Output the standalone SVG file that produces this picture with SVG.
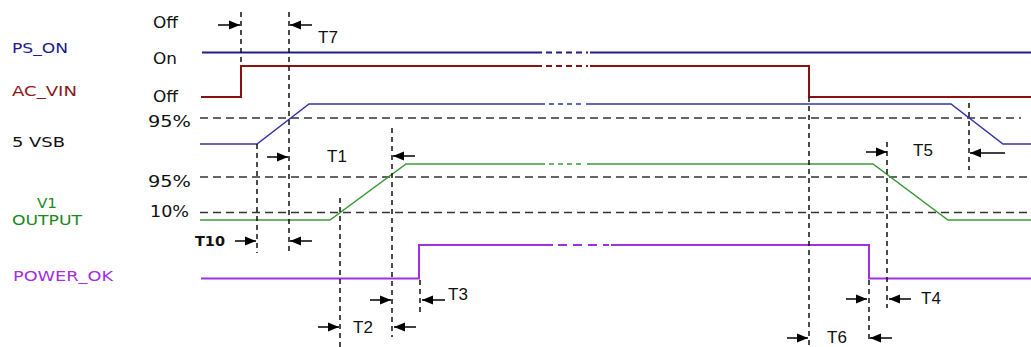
<svg xmlns="http://www.w3.org/2000/svg" width="1031" height="347" viewBox="0 0 1031 347">
<style>
  text { font-family: "DejaVu Sans", "Liberation Sans", sans-serif; }
  .lbl { font-size: 14px; }
  .lvl { font-size: 15px; fill: #111; }
  .tl { font-family: "Liberation Sans", Arial, sans-serif; font-size: 17px; fill: #111; }
  .sig { fill: none; stroke-linejoin: miter; }
  .ref { fill: none; stroke: #333; stroke-width: 1.5; stroke-dasharray: 8 5; }
  .vd { fill: none; stroke: #111; stroke-width: 1.5; stroke-dasharray: 5 4; }
  .arr { fill: none; stroke: #000; stroke-width: 1.5; marker-end: url(#ah); }
</style>
<defs>
  <marker id="ah" markerUnits="userSpaceOnUse" markerWidth="11" markerHeight="10" viewBox="0 0 11 10" refX="11" refY="5" orient="auto">
    <path d="M0,0.5 L11,5 L0,9.5 z" fill="#000"/>
  </marker>
</defs>
<rect width="1031" height="347" fill="#fff"/>

<g id="labels">
  <text class="lbl" x="12" y="53" textLength="56" lengthAdjust="spacingAndGlyphs" fill="#1c1c8c">PS_ON</text>
  <text class="lbl" x="12" y="96" textLength="65" lengthAdjust="spacingAndGlyphs" fill="#8b1a1a">AC_VIN</text>
  <text class="lbl" x="12" y="147" textLength="53" lengthAdjust="spacingAndGlyphs" fill="#111">5 VSB</text>
  <text class="lbl" x="37" y="208" textLength="20" lengthAdjust="spacingAndGlyphs" fill="#1a8a1a">V1</text>
  <text class="lbl" x="12" y="225" textLength="70" lengthAdjust="spacingAndGlyphs" fill="#1a8a1a">OUTPUT</text>
  <text class="lbl" x="13" y="281" textLength="100" lengthAdjust="spacingAndGlyphs" fill="#a030e0">POWER_OK</text>
  <text class="lvl" x="153" y="28" textLength="25" lengthAdjust="spacingAndGlyphs">Off</text>
  <text class="lvl" x="153" y="64" textLength="24" lengthAdjust="spacingAndGlyphs">On</text>
  <text class="lvl" x="153" y="102" textLength="25" lengthAdjust="spacingAndGlyphs">Off</text>
  <text class="lvl" x="148" y="127" textLength="43" lengthAdjust="spacingAndGlyphs">95%</text>
  <text class="lvl" x="148" y="187" textLength="43" lengthAdjust="spacingAndGlyphs">95%</text>
  <text class="lvl" x="150" y="217" textLength="39" lengthAdjust="spacingAndGlyphs">10%</text>
</g>

<g id="reference-levels">
  <path class="ref" d="M200,118 H1021"/>
  <path class="ref" d="M200,177 H1031"/>
  <path class="ref" d="M200,212.5 H1031"/>
</g>

<g id="PS_ON">
  <path class="sig" stroke="#1f1f8a" stroke-width="2" d="M202,52.5 H542 M590,52.5 H1031"/>
  <path class="sig" stroke="#1f1f8a" stroke-width="2" stroke-dasharray="6 4" d="M546,52.5 H588"/>
</g>
<g id="AC_VIN">
  <path class="sig" stroke="#8b1010" stroke-width="2" d="M201,97 H241 V66 H542 M590,66 H809 V97 H1031"/>
  <path class="sig" stroke="#8b1010" stroke-width="2" stroke-dasharray="6 4" d="M546,66 H588"/>
</g>
<g id="VSB5">
  <path class="sig" stroke="#3535a5" stroke-width="1.5" d="M200,144 H257 L309,104 H545 M586,104 H951 L1003,144 H1031"/>
  <path class="sig" stroke="#3535a5" stroke-width="1.5" stroke-dasharray="5 4" d="M549,104 H584"/>
</g>
<g id="V1_OUTPUT">
  <path class="sig" stroke="#3a9a3a" stroke-width="1.5" d="M200,220 H330 L406,164 H545 M587,164 H873 L948,220 H1031"/>
  <path class="sig" stroke="#3a9a3a" stroke-width="1.5" stroke-dasharray="5 4" d="M549,164 H585"/>
</g>
<g id="POWER_OK">
  <path class="sig" stroke="#a030e0" stroke-width="2" d="M201,278.5 H419 V245 H553 M611,245 H869 V278.5 H1031"/>
  <path class="sig" stroke="#a030e0" stroke-width="2" stroke-dasharray="9 6" d="M558,245 H609"/>
</g>

<g id="connectors">
  <path class="vd" d="M241,12 V62"/>
  <path class="vd" d="M289,12 V253"/>
  <path class="vd" d="M257,144 V253"/>
  <path class="vd" d="M340,198 V347"/>
  <path class="vd" d="M392,128 V337"/>
  <path class="vd" d="M420,280 V312"/>
  <path class="vd" d="M809,97 V347"/>
  <path class="vd" d="M869,280 V342"/>
  <path class="vd" d="M887,142 V308"/>
  <path class="vd" d="M969,103 V170"/>

  <path class="arr" d="M218,25 H240"/>
  <path class="arr" d="M312,25 H290"/>
  <path class="arr" d="M267,157 H288"/>
  <path class="arr" d="M415,156 H393"/>
  <path class="arr" d="M235,241 H256"/>
  <path class="arr" d="M312,241 H290"/>
  <path class="arr" d="M370,300 H391"/>
  <path class="arr" d="M445,300 H422"/>
  <path class="arr" d="M318,327 H339"/>
  <path class="arr" d="M416,327 H394"/>
  <path class="arr" d="M846,299 H867"/>
  <path class="arr" d="M911,299 H889"/>
  <path class="arr" d="M787,338 H808"/>
  <path class="arr" d="M892,338 H870"/>
  <path class="arr" d="M866,152 H887"/>
  <path class="arr" d="M1005,153 H970"/>
</g>

<g id="timing-labels">
  <text class="tl" x="318" y="43">T7</text>
  <text class="tl" x="327" y="162">T1</text>
  <text x="195" y="246" font-size="14" font-weight="bold" fill="#111" textLength="30" lengthAdjust="spacingAndGlyphs">T10</text>
  <text class="tl" x="448" y="300">T3</text>
  <text class="tl" x="353" y="333">T2</text>
  <text class="tl" x="921" y="304">T4</text>
  <text class="tl" x="827" y="343">T6</text>
  <text class="tl" x="913" y="156">T5</text>
</g>
</svg>
